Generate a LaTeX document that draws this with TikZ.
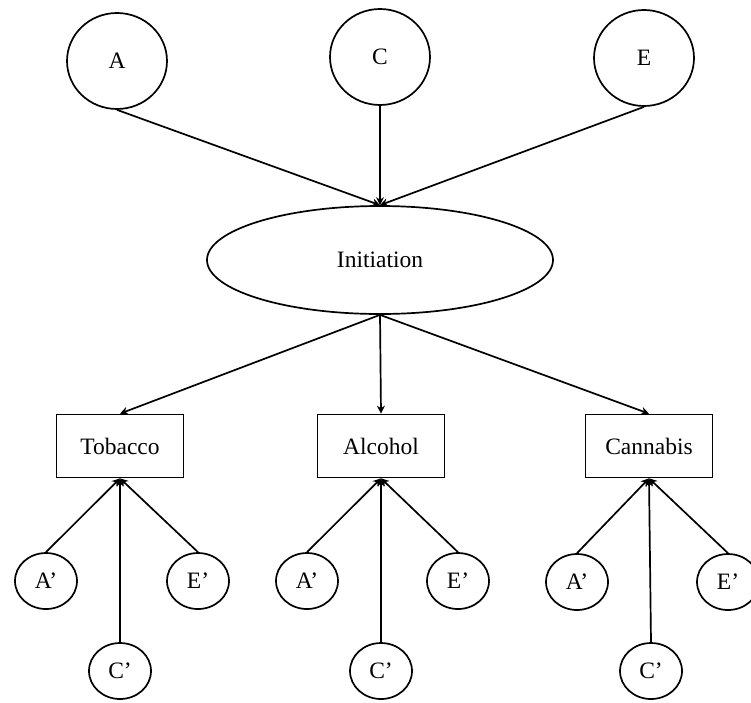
\documentclass[tikz,border=0pt]{standalone}
\usepackage{fontspec}
\setmainfont{Liberation Serif}
\usetikzlibrary{arrows.meta,shapes.geometric}

\begin{document}
\begin{tikzpicture}[x=1pt, y=-1pt, line width=1.7pt,
        >={Stealth[length=8pt,width=8pt]},
        font=\fontsize{23.5}{27}\selectfont,
        bigvar/.style={ellipse, draw, minimum width=100pt, minimum height=96pt, inner sep=0pt},
        smallvar/.style={ellipse, draw, minimum width=62pt, minimum height=56pt, inner sep=0pt},
        latent/.style={ellipse, draw, minimum width=346pt, minimum height=108pt, inner sep=0pt},
        substance/.style={rectangle, draw, minimum width=127pt, minimum height=63pt, inner sep=0pt}]
        \useasboundingbox (0,0) rectangle (751,702);

        % Nodes
        \node[bigvar] at (117, 61)  (a)    {A};
        \node[bigvar] at (380, 57)  (c)    {C};
        \node[bigvar] at (644, 58)  (e)    {E};

        \node[latent] at (380, 260) (init) {Initiation};

        \node[substance] at (120, 446) (tob) {Tobacco};
        \node[substance] at (381, 446) (alc) {Alcohol};
        \node[substance] at (649, 446) (can) {Cannabis};

        \node[smallvar] at (46, 581)  (ta) {A’};
        \node[smallvar] at (198, 581) (te) {E’};
        \node[smallvar] at (120, 671) (tc) {C’};

        \node[smallvar] at (307, 581) (aa) {A’};
        \node[smallvar] at (458, 581) (ae) {E’};
        \node[smallvar] at (381, 671) (ac) {C’};

        \node[smallvar] at (577, 582) (ca) {A’};
        \node[smallvar] at (728, 582) (ce) {E’};
        \node[smallvar] at (651, 671) (cc) {C’};


        \draw[->]  (a.south) -- (init.north);
        \draw[->]  (c) -- (init);
        \draw[->]  (e.south) -- (init.north);

        \draw[->]  (init.south) -- (tob.north);
        \draw[->]  (init.south) -- (alc.north);
        \draw[->]  (init.south) -- (can.north);

        \draw[->]  (ta.north) -- (tob.south);
        \draw[->]  (tc.north) -- (tob.south);
        \draw[->]  (te.north) -- (tob.south);

        \draw[->]  (aa.north) -- (alc.south);
        \draw[->]  (ac.north) -- (alc.south);
        \draw[->]  (ae.north) -- (alc.south);

        \draw[->]  (ca.north) -- (can.south);
        \draw[->]  (cc.north) -- (can.south);
        \draw[->]  (ce.north) -- (can.south);
    \end{tikzpicture}
\end{document}
